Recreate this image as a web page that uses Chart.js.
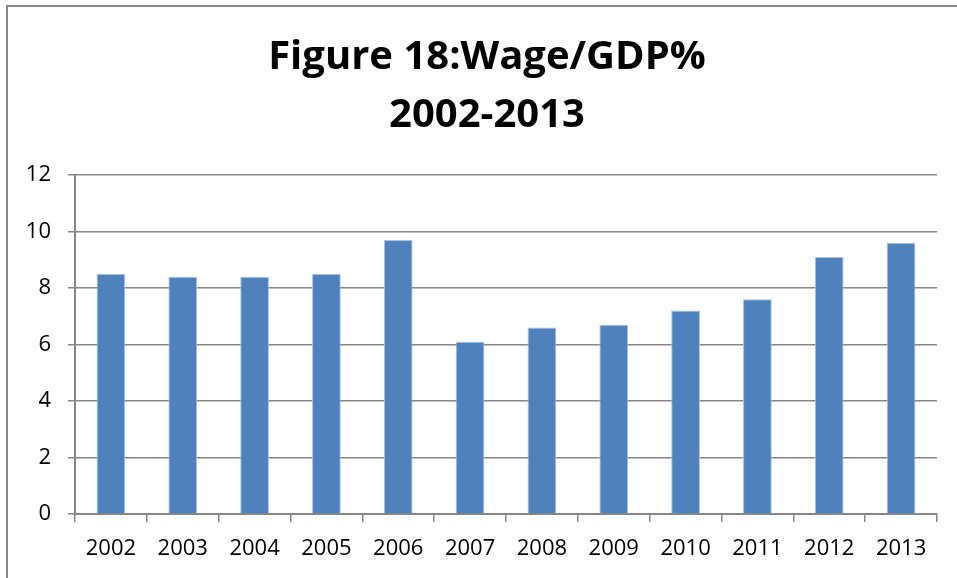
<!DOCTYPE html>
<html>
<head>
<meta charset="utf-8">
<script src="https://cdn.jsdelivr.net/npm/chart.js@4.4.1/dist/chart.umd.min.js"></script>
<style>
  html, body { margin: 0; padding: 0; background: #fff; overflow: hidden; }
  .frame {
    position: absolute; left: 6px; top: 5px; width: 1000px; height: 620px;
    border-left: 2px solid #868686; border-top: 2px solid #868686;
  }
  #wagechart { position: absolute; left: 0; top: 0; }
</style>
</head>
<body>
<div class="frame"></div>
<canvas id="wagechart" width="957" height="578"></canvas>
<script>
// wage share of GDP, by year
var years = ['2002', '2003', '2004', '2005', '2006', '2007', '2008', '2009', '2010', '2011', '2012', '2013'];
var wagegdp = [8.5, 8.4, 8.4, 8.5, 9.7, 6.1, 6.6, 6.7, 7.2, 7.6, 9.1, 9.6];
var titlelines = ['Figure 18:Wage/GDP%', '2002-2013'];
var yticks = [0, 2, 4, 6, 8, 10, 12];

var fam = '"Open Sans", "Liberation Sans", sans-serif';
var axiscol = '#868686';

// title sits centred over the whole frame, not over the plot + y axis
var titleshift = {
    id: 'titleshift',
    afterLayout: function(chart) {
        if (chart.titleBlock) {
            chart.titleBlock.left += 37;
        }
    }
};

var ctx = document.getElementById('wagechart').getContext('2d');
var wagechart = new Chart(ctx, {
    type: 'bar',
    data: {
        labels: years,
        datasets: [{
            data: wagegdp,
            backgroundColor: '#4F81BD',
            borderColor: '#a9c0de',
            borderWidth: 1,
            barPercentage: 0.4,
            categoryPercentage: 1.0
        }]
    },
    options: {
        responsive: false,
        animation: false,
        devicePixelRatio: 1,
        layout: { padding: { left: 0, right: 20, top: 0, bottom: 0 } },
        plugins: {
            legend: { display: false },
            tooltip: { enabled: false },
            title: {
                display: true,
                text: titlelines,
                color: '#000',
                font: { family: fam, size: 40, weight: 'bold', lineHeight: 58 / 40 },
                padding: { top: 29, bottom: 30 }
            }
        },
        scales: {
            x: {
                grid: {
                    drawOnChartArea: false,
                    drawTicks: true,
                    tickLength: 8,
                    color: axiscol,
                    lineWidth: 1.5,
                    offset: true
                },
                border: { color: axiscol, width: 2 },
                ticks: {
                    color: '#000',
                    font: { family: fam, size: 22 },
                    padding: 14,
                    maxRotation: 0
                },
                afterFit: function(scale) { scale.height = 64; }
            },
            y: {
                min: 0,
                max: 12,
                afterBuildTicks: function(scale) {
                    scale.ticks = yticks.map(function(v) { return { value: v }; });
                },
                grid: {
                    color: axiscol,
                    lineWidth: 1.5,
                    tickLength: 7
                },
                border: { color: axiscol, width: 2 },
                ticks: {
                    color: '#000',
                    font: { family: fam, size: 22 },
                    padding: 17
                },
                afterFit: function(scale) { scale.width = 75; }
            }
        }
    },
    plugins: [titleshift]
});
</script>
</body>
</html>
